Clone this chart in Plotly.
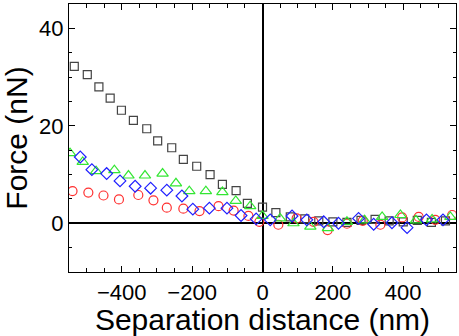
import plotly.graph_objects as go

# Data (separation distance in nm, force in nN)
black_x = [-535, -498, -465, -433, -401, -367, -329, -298, -258, -225, -187, -149, -114, -75, -43, 0,
           38, 79, 120, 160, 200, 240, 280, 320, 360, 400, 440, 480, 520]
black_y = [32.2, 30.5, 28.0, 25.7, 23.2, 21.1, 19.4, 16.9, 15.5, 13.1, 11.7, 10.0, 8.0, 6.7, 4.1, 3.3,
           2.2, 1.3, 0.9, 0.5, 0.3, 0.2, 0.6, 0.8, 0.5, 0.3, 0.6, 0.2, 0.5]

red_x = [-540, -495, -452, -408, -353, -310, -272, -225, -179, -125, -82, -40, -9,
         45, 97, 145, 185, 240, 285, 335, 397, 444, 491, 539]
red_y = [6.6, 6.3, 5.7, 4.9, 5.8, 4.7, 3.2, 3.0, 2.5, 3.5, 2.6, 1.5, 0.3,
         -0.3, 1.0, 0.3, -1.4, -0.1, 0.5, -0.3, 1.2, 1.3, 0.7, 1.7]

green_x = [-547, -511, -473, -421, -381, -334, -284, -246, -208, -161, -114, -76, -35,
           0, 50, 88, 136, 186, 240, 290, 340, 392, 436, 482, 534]
green_y = [14.4, 12.6, 10.7, 10.9, 9.8, 9.8, 10.2, 8.2, 6.6, 6.6, 6.4, 4.6, 3.5,
           1.5, 1.0, 0.0, -0.7, -1.0, 0.3, 0.6, 1.3, 1.7, 0.6, 0.8, 1.3]

blue_x = [-518, -485, -443, -405, -362, -318, -272, -229, -198, -151, -101, -61, -18,
          22, 84, 126, 174, 216, 273, 316, 368, 411, 466, 513]
blue_y = [13.6, 11.0, 10.2, 8.7, 7.6, 7.2, 6.8, 5.6, 2.9, 3.1, 3.1, 1.6, 0.9,
          0.7, 1.5, 0.7, 0.3, 0.0, 1.0, -0.2, 0.1, -0.9, 0.7, 0.7]

x_tickvals = [-400, -200, 0, 200, 400]
y_tickvals = [0, 20, 40]

FONT = "Liberation Sans, Arial, sans-serif"

fig = go.Figure()
series = [
    (black_x, black_y, "square-open", "#444444", 8),
    (red_x, red_y, "circle-open", "#ff3030", 9),
    (green_x, green_y, "triangle-up-open", "#33e633", 10),
    (blue_x, blue_y, "diamond-open", "#1f1fff", 9),
]
for xs, ys, sym, col, sz in series:
    fig.add_trace(go.Scatter(
        x=xs, y=ys, mode="markers",
        marker=dict(symbol=sym, size=sz, color=col, line=dict(color=col, width=1.2)),
        showlegend=False,
    ))

axis_common = dict(
    showgrid=False, showline=True, linecolor="black", linewidth=1.3,
    mirror="ticks", ticks="inside", ticklen=6, tickwidth=1.2, tickcolor="black",
    zeroline=True, zerolinecolor="black", zerolinewidth=1.5,
    tickfont=dict(family=FONT, size=22, color="black"),
    automargin=False,
)

fig.update_xaxes(
    range=[-550, 550], tickvals=x_tickvals,
    minor=dict(ticks="inside", dtick=50, ticklen=4, tickwidth=1, tickcolor="black"),
    title=dict(text="Separation distance (nm)", font=dict(family=FONT, size=30, color="black"), standoff=0),
    **axis_common,
)
fig.update_yaxes(
    range=[-10, 45], tickvals=y_tickvals,
    minor=dict(ticks="inside", dtick=5, ticklen=3, tickwidth=1, tickcolor="black"),
    title=dict(text="Force (nN)", font=dict(family=FONT, size=30, color="black"), standoff=2),
    **axis_common,
)

fig.update_layout(
    width=459, height=336,
    margin=dict(l=69, r=3, t=4, b=64),
    plot_bgcolor="white", paper_bgcolor="white",
)

fig.write_html("out.html", config={"displayModeBar": False},
               post_script="document.body.style.margin='0';")
